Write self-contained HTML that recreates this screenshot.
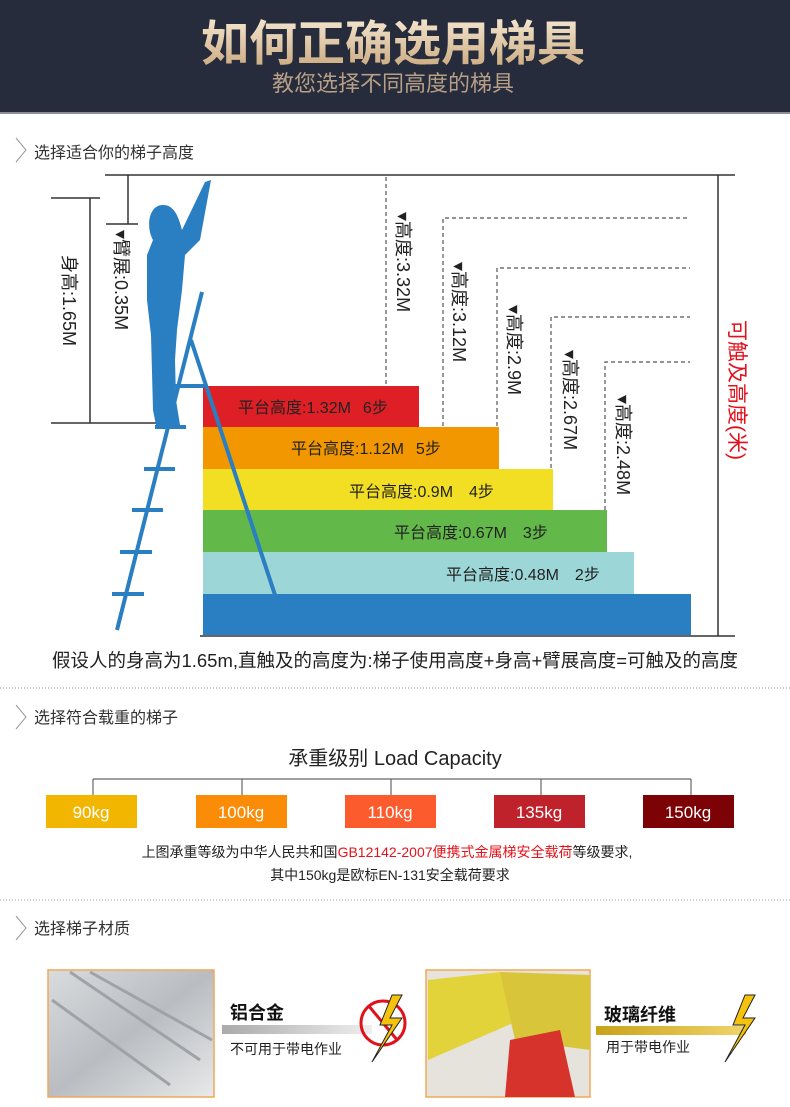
<!DOCTYPE html>
<html><head><meta charset="utf-8"><style>
html,body{margin:0;padding:0;background:#fff;}
svg{display:block;font-family:"Liberation Sans","Noto Sans CJK SC",sans-serif;}
</style></head><body>
<svg width="790" height="1107" viewBox="0 0 790 1107" xmlns="http://www.w3.org/2000/svg">
<defs>
<linearGradient id="gold" x1="0" y1="0" x2="0" y2="1"><stop offset="0" stop-color="#f4e6cf"/><stop offset="1" stop-color="#c9a77c"/></linearGradient>
<linearGradient id="alu" x1="0" y1="0" x2="1" y2="1"><stop offset="0" stop-color="#d9dcde"/><stop offset="0.5" stop-color="#b9bdc1"/><stop offset="1" stop-color="#e8e9ea"/></linearGradient>
<linearGradient id="bar1" x1="0" y1="0" x2="1" y2="0"><stop offset="0" stop-color="#aaa"/><stop offset="1" stop-color="#eee"/></linearGradient>
<linearGradient id="bar2" x1="0" y1="0" x2="1" y2="0"><stop offset="0" stop-color="#c9a21a"/><stop offset="1" stop-color="#f1d46a"/></linearGradient>
</defs>
<rect x="0" y="0" width="790" height="113" fill="#262c3b"/>
<rect x="0" y="112" width="790" height="2" fill="#8a8f99"/>
<text x="393" y="60" text-anchor="middle" font-size="48" font-weight="bold" fill="url(#gold)">如何正确选用梯具</text>
<text x="393" y="91" text-anchor="middle" font-size="22" fill="#b69f86">教您选择不同高度的梯具</text>

<polyline points="16,138 26,150 16,162" fill="none" stroke="#999" stroke-width="1"/>
<text x="34" y="158" font-size="16" fill="#333">选择适合你的梯子高度</text>

<g stroke="#333" stroke-width="1.5" fill="none">
<line x1="105" y1="175" x2="735" y2="175"/>
<line x1="718" y1="175" x2="718" y2="636"/>
<line x1="200" y1="636" x2="735" y2="636"/>
<line x1="128" y1="175" x2="128" y2="224"/>
<line x1="106" y1="224" x2="138" y2="224"/>
<line x1="90" y1="198" x2="90" y2="423"/>
<line x1="51" y1="198" x2="100" y2="198"/>
<line x1="51" y1="423" x2="158" y2="423"/>
</g>
<g stroke="#555" stroke-width="1.2" stroke-dasharray="4,3" fill="none">
<line x1="386" y1="177" x2="386" y2="386"/>
<polyline points="443,426 443,218 690,218"/>
<polyline points="497,468 497,268 690,268"/>
<polyline points="551,510 551,317 690,317"/>
<polyline points="605,552 605,362 690,362"/>
</g>
<rect x="203" y="386" width="216" height="41" fill="#df1f26"/>
<rect x="203" y="427" width="296" height="42" fill="#f39700"/>
<rect x="203" y="469" width="350" height="41" fill="#f2df23"/>
<rect x="203" y="510" width="404" height="42" fill="#62b848"/>
<rect x="203" y="552" width="431" height="42" fill="#9cd6d7"/>
<rect x="203" y="594" width="488" height="41" fill="#2a7fc2"/>
<g font-size="16" fill="#222">
<text x="238" y="413">平台高度:1.32M<tspan dx="12">6步</tspan></text>
<text x="291" y="454">平台高度:1.12M<tspan dx="12">5步</tspan></text>
<text x="349" y="497">平台高度:0.9M<tspan dx="16">4步</tspan></text>
<text x="394" y="538">平台高度:0.67M<tspan dx="16">3步</tspan></text>
<text x="446" y="580">平台高度:0.48M<tspan dx="16">2步</tspan></text>
</g>
<g font-size="18" fill="#222">
<text transform="translate(397,212) rotate(90)">▾高度:3.32M</text>
<text transform="translate(453,262) rotate(90)">▾高度:3.12M</text>
<text transform="translate(508,305) rotate(90)">▾高度:2.9M</text>
<text transform="translate(564,350) rotate(90)">▾高度:2.67M</text>
<text transform="translate(617,395) rotate(90)">▾高度:2.48M</text>
<text transform="translate(115,230) rotate(90)">▾臂展:0.35M</text>
<text transform="translate(63,255) rotate(90)">身高:1.65M</text>
</g>
<text transform="translate(730,320) rotate(90)" font-size="21" fill="#e1111c">可触及高度(米)</text>

<g stroke="#2a7fc2" stroke-width="4" fill="none">
<line x1="117" y1="630" x2="202" y2="292"/>
<line x1="191" y1="340" x2="276" y2="598"/>
<line x1="174" y1="386" x2="204" y2="386"/>
<line x1="155" y1="427" x2="186" y2="427"/>
<line x1="144" y1="469" x2="175" y2="469"/>
<line x1="132" y1="510" x2="163" y2="510"/>
<line x1="120" y1="552" x2="152" y2="552"/>
<line x1="112" y1="594" x2="144" y2="594"/>
</g>
<path d="M163,205 C148,205 146,228 153,240 L147,255 L147,300 L151,335 L153,410 L156,425 L180,425 L176,400 L175,360 L177,330 L182,290 L185,255 L200,240 L211,180 L205,182 L182,230 C178,214 173,205 163,205 Z" fill="#2a7fc2"/>

<text x="395" y="667" text-anchor="middle" font-size="18.5" fill="#222">假设人的身高为1.65m,直触及的高度为:梯子使用高度+身高+臂展高度=可触及的高度</text>
<line x1="0" y1="688" x2="790" y2="688" stroke="#999" stroke-dasharray="1,2"/>

<polyline points="16,705 26,717 16,729" fill="none" stroke="#999" stroke-width="1"/>
<text x="34" y="723" font-size="16" fill="#333">选择符合载重的梯子</text>
<text x="395" y="765" text-anchor="middle" font-size="20" fill="#222">承重级别  Load Capacity</text>
<g stroke="#666" stroke-width="1.2" fill="none">
<line x1="93" y1="779" x2="691" y2="779"/>
<line x1="93" y1="779" x2="93" y2="795"/>
<line x1="242" y1="779" x2="242" y2="795"/>
<line x1="391" y1="779" x2="391" y2="795"/>
<line x1="541" y1="779" x2="541" y2="795"/>
<line x1="691" y1="779" x2="691" y2="795"/>
</g>
<rect x="46" y="795" width="91" height="33" fill="#f3b600"/>
<rect x="196" y="795" width="91" height="33" fill="#fa8c08"/>
<rect x="345" y="795" width="91" height="33" fill="#fb5b2d"/>
<rect x="494" y="795" width="91" height="33" fill="#c0222b"/>
<rect x="643" y="795" width="91" height="33" fill="#7d0205"/>
<g font-size="17" fill="#fff" text-anchor="middle">
<text x="91" y="818">90kg</text><text x="241" y="818">100kg</text><text x="390" y="818">110kg</text><text x="539" y="818">135kg</text><text x="688" y="818">150kg</text>
</g>
<text x="387" y="857" text-anchor="middle" font-size="14" fill="#222">上图承重等级为中华人民共和国<tspan fill="#e5141b">GB12142-2007便携式金属梯安全载荷</tspan>等级要求,</text>
<text x="390" y="880" text-anchor="middle" font-size="14" fill="#222">其中150kg是欧标EN-131安全载荷要求</text>
<line x1="0" y1="900" x2="790" y2="900" stroke="#999" stroke-dasharray="1,2"/>

<polyline points="16,916 26,928 16,940" fill="none" stroke="#999" stroke-width="1"/>
<text x="34" y="934" font-size="16" fill="#333">选择梯子材质</text>

<rect x="48" y="970" width="166" height="127" fill="url(#alu)" stroke="#f3a75a" stroke-width="1.5"/>
<g stroke="#9ea3a8" stroke-width="3" fill="none">
<line x1="70" y1="972" x2="200" y2="1060"/><line x1="52" y1="1000" x2="170" y2="1085"/><line x1="90" y1="972" x2="212" y2="1040"/>
</g>
<text x="230" y="1019" font-size="18" font-weight="bold" fill="#111">铝合金</text>
<rect x="222" y="1025" width="150" height="9" fill="url(#bar1)"/>
<text x="230" y="1054" font-size="14" fill="#222">不可用于带电作业</text>
<circle cx="383" cy="1023" r="22" fill="none" stroke="#e1111c" stroke-width="3"/>
<line x1="368" y1="1005" x2="398" y2="1041" stroke="#e1111c" stroke-width="3"/>
<polygon points="392,995 380,1025 392,1025 372,1062 402,1018 390,1018 402,995" fill="#f5c20d" stroke="#222" stroke-width="1"/>

<rect x="426" y="970" width="164" height="127" fill="#e5e3dc" stroke="#f3a75a" stroke-width="1.5"/>
<polygon points="428,980 500,972 520,1020 428,1060" fill="#e3d33a"/>
<polygon points="500,972 590,975 590,1050 515,1040" fill="#d9c53a"/>
<polygon points="510,1040 560,1030 575,1097 505,1097" fill="#d5332c"/>
<text x="604" y="1021" font-size="18" font-weight="bold" fill="#111">玻璃纤维</text>
<rect x="596" y="1026" width="150" height="9" fill="url(#bar2)"/>
<text x="606" y="1052" font-size="14" fill="#222">用于带电作业</text>
<polygon points="745,995 733,1025 745,1025 725,1062 755,1018 743,1018 755,995" fill="#f5c20d" stroke="#222" stroke-width="1"/>
</svg>
</body></html>
